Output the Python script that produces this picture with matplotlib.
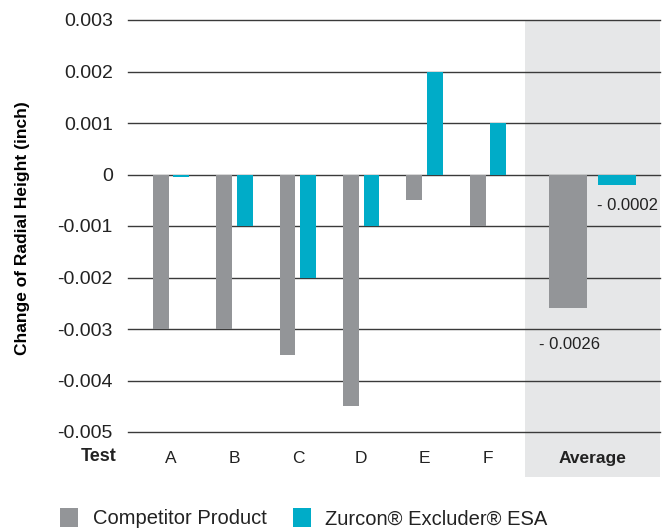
import matplotlib.pyplot as plt
from matplotlib.patches import Rectangle

plt.rcParams["font.family"] = ["Liberation Sans", "DejaVu Sans"]
plt.rcParams["axes.unicode_minus"] = False

categories = ["A", "B", "C", "D", "E", "F"]
competitor = [-0.003, -0.003, -0.0035, -0.0045, -0.0005, -0.001]
zurcon = [-0.00005, -0.001, -0.002, -0.001, 0.002, 0.001]
avg_label = "Average"
avg_competitor = -0.0026
avg_zurcon = -0.0002
yticks = [0.003, 0.002, 0.001, 0.0, -0.001, -0.002, -0.003, -0.004, -0.005]
series_names = ["Competitor Product", "Zurcon\u00ae Excluder\u00ae ESA"]

GRAY = "#939598"
TEAL = "#00acc8"
SHADE = "#e6e7e8"

fig = plt.figure(figsize=(6.72, 5.32), dpi=100)
ax = fig.add_axes([128 / 672, 1 - 432 / 532, 532 / 672, 412 / 532])

xs = list(range(len(categories)))
ax.bar([x - 0.165 for x in xs], competitor, width=0.25, color=GRAY, zorder=3)
ax.bar([x + 0.16 for x in xs], zurcon, width=0.25, color=TEAL, zorder=3)

avg_x = 6.64
ax.bar([avg_x - 0.38], [avg_competitor], width=0.6, color=GRAY, zorder=3)
ax.bar([avg_x + 0.39], [avg_zurcon], width=0.6, color=TEAL, zorder=3)

ax.set_xlim(-0.68, 7.71)
ax.set_ylim(-0.005, 0.003)

# shaded average column, runs below the axis to cover the label
trans = ax.get_xaxis_transform()
ax.add_patch(Rectangle((5.58, -0.11), 7.71 - 5.58, 1.11, transform=trans,
                       facecolor=SHADE, edgecolor="none", clip_on=False, zorder=0))

for y in yticks:
    ax.axhline(y, color="#3a3a3a", linewidth=1.0, zorder=2, clip_on=False)

for s in ax.spines.values():
    s.set_visible(False)
ax.set_yticks(yticks)
ax.set_yticklabels(["0" if y == 0 else f"{y:.3f}" for y in yticks], fontsize=14, color="#222222")
ax.tick_params(axis="y", length=0, pad=11)
ax.set_xticks(xs + [avg_x])
ax.set_xticklabels(categories + [avg_label], fontsize=12.5, color="#222222")
ax.get_xticklabels()[-1].set_fontweight("bold")
ax.tick_params(axis="x", length=0, pad=14)
ax.set_facecolor("none")

ax.text(-0.86, -0.06, "Test", transform=trans, ha="right", va="center",
        fontsize=13, fontweight="bold", color="#222222")

ax.set_ylabel("Change of Radial Height (inch)", fontsize=12.5, fontweight="bold")
ax.yaxis.set_label_coords((30 - 128) / 532, 0.495)

ax.text(avg_x + 0.07, avg_zurcon - 0.0004, "- 0.0002", ha="left", va="center", fontsize=12, color="#222222")
ax.text(avg_x - 0.84, avg_competitor - 0.0007, "- 0.0026", ha="left", va="center", fontsize=12, color="#222222")

# legend row
fig.patches.append(Rectangle((60 / 672, 1 - 527 / 532), 18 / 672, 19 / 532,
                             transform=fig.transFigure, facecolor=GRAY, edgecolor="none"))
fig.text(93 / 672, 1 - 519 / 532, series_names[0], fontsize=14.5, va="center", color="#222222")
fig.patches.append(Rectangle((293 / 672, 1 - 527 / 532), 18 / 672, 19 / 532,
                             transform=fig.transFigure, facecolor=TEAL, edgecolor="none"))
fig.text(325 / 672, 1 - 519 / 532, series_names[1], fontsize=14.5, va="center", color="#222222")

fig.savefig("out.png", dpi=100)
